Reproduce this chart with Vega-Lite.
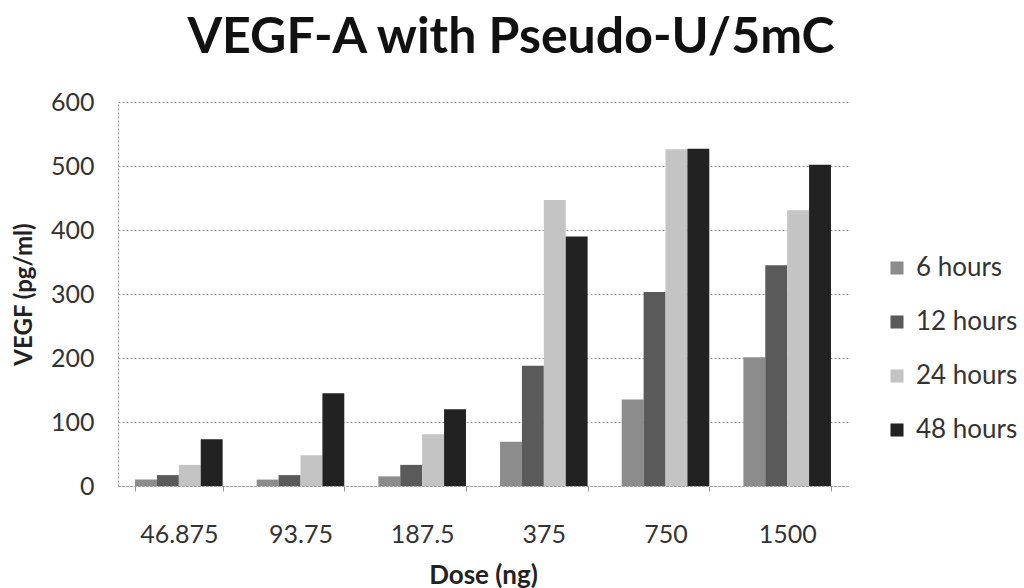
{
  "$schema": "https://vega.github.io/schema/vega-lite/v6.json",
  "autosize": "none",
  "width": 730,
  "height": 384,
  "padding": {"left": 118, "top": 102, "right": 176, "bottom": 102},
  "background": "white",
  "title": {
    "text": "VEGF-A with Pseudo-U/5mC",
    "font": "Lato",
    "fontSize": 50,
    "fontWeight": "bold",
    "color": "#111111",
    "anchor": "middle",
    "dx": 28,
    "offset": 27
  },
  "data": {
    "values": [
      {"dose": "46.875", "time": "6 hours", "vegf": 10},
      {"dose": "46.875", "time": "12 hours", "vegf": 17},
      {"dose": "46.875", "time": "24 hours", "vegf": 33},
      {"dose": "46.875", "time": "48 hours", "vegf": 73},
      {"dose": "93.75", "time": "6 hours", "vegf": 10},
      {"dose": "93.75", "time": "12 hours", "vegf": 17},
      {"dose": "93.75", "time": "24 hours", "vegf": 48},
      {"dose": "93.75", "time": "48 hours", "vegf": 145},
      {"dose": "187.5", "time": "6 hours", "vegf": 15},
      {"dose": "187.5", "time": "12 hours", "vegf": 33},
      {"dose": "187.5", "time": "24 hours", "vegf": 81},
      {"dose": "187.5", "time": "48 hours", "vegf": 120},
      {"dose": "375", "time": "6 hours", "vegf": 69},
      {"dose": "375", "time": "12 hours", "vegf": 188},
      {"dose": "375", "time": "24 hours", "vegf": 447},
      {"dose": "375", "time": "48 hours", "vegf": 390},
      {"dose": "750", "time": "6 hours", "vegf": 135},
      {"dose": "750", "time": "12 hours", "vegf": 303},
      {"dose": "750", "time": "24 hours", "vegf": 526},
      {"dose": "750", "time": "48 hours", "vegf": 527},
      {"dose": "1500", "time": "6 hours", "vegf": 201},
      {"dose": "1500", "time": "12 hours", "vegf": 345},
      {"dose": "1500", "time": "24 hours", "vegf": 431},
      {"dose": "1500", "time": "48 hours", "vegf": 502}
    ]
  },
  "mark": {"type": "bar"},
  "encoding": {
    "x": {
      "field": "dose",
      "type": "nominal",
      "sort": ["46.875", "93.75", "187.5", "375", "750", "1500"],
      "scale": {"paddingInner": 0.28, "paddingOuter": 0.14},
      "axis": {
        "title": "Dose (ng)",
        "titleFont": "Lato",
        "titleFontSize": 26,
        "titleFontWeight": "bold",
        "titleColor": "#222222",
        "titlePadding": 15,
        "labelAngle": 0,
        "labelFont": "Lato",
        "labelFontSize": 25,
        "labelColor": "#333333",
        "labelPadding": 31,
        "tickBand": "extent",
        "ticks": true,
        "tickColor": "#999999",
        "tickSize": 5,
        "domainColor": "#999999",
        "domainDash": [2, 2],
        "grid": false
      }
    },
    "xOffset": {
      "field": "time",
      "type": "nominal",
      "sort": ["6 hours", "12 hours", "24 hours", "48 hours"],
      "scale": {"paddingInner": 0, "paddingOuter": 0}
    },
    "y": {
      "field": "vegf",
      "type": "quantitative",
      "scale": {"domain": [0, 600]},
      "axis": {
        "title": "VEGF (pg/ml)",
        "titleFont": "Lato",
        "titleFontSize": 24,
        "titleFontWeight": "bold",
        "titleColor": "#222222",
        "titlePadding": 14,
        "values": [0, 100, 200, 300, 400, 500, 600],
        "labelFont": "Lato",
        "labelFontSize": 25,
        "labelColor": "#333333",
        "labelPadding": 24,
        "ticks": false,
        "domainColor": "#999999",
        "domainDash": [2, 2],
        "grid": true,
        "gridColor": "#999999",
        "gridDash": [2, 2]
      }
    },
    "color": {
      "field": "time",
      "type": "nominal",
      "sort": ["6 hours", "12 hours", "24 hours", "48 hours"],
      "scale": {
        "domain": ["6 hours", "12 hours", "24 hours", "48 hours"],
        "range": ["#8c8c8c", "#5a5a5a", "#c4c4c4", "#222222"]
      },
      "legend": {
        "title": null,
        "orient": "none",
        "legendX": 766,
        "legendY": 153,
        "symbolType": "square",
        "symbolSize": 170,
        "labelFont": "Lato",
        "labelFontSize": 26,
        "labelColor": "#333333",
        "rowPadding": 28,
        "labelOffset": 6
      }
    }
  },
  "config": {"view": {"stroke": null}}
}
